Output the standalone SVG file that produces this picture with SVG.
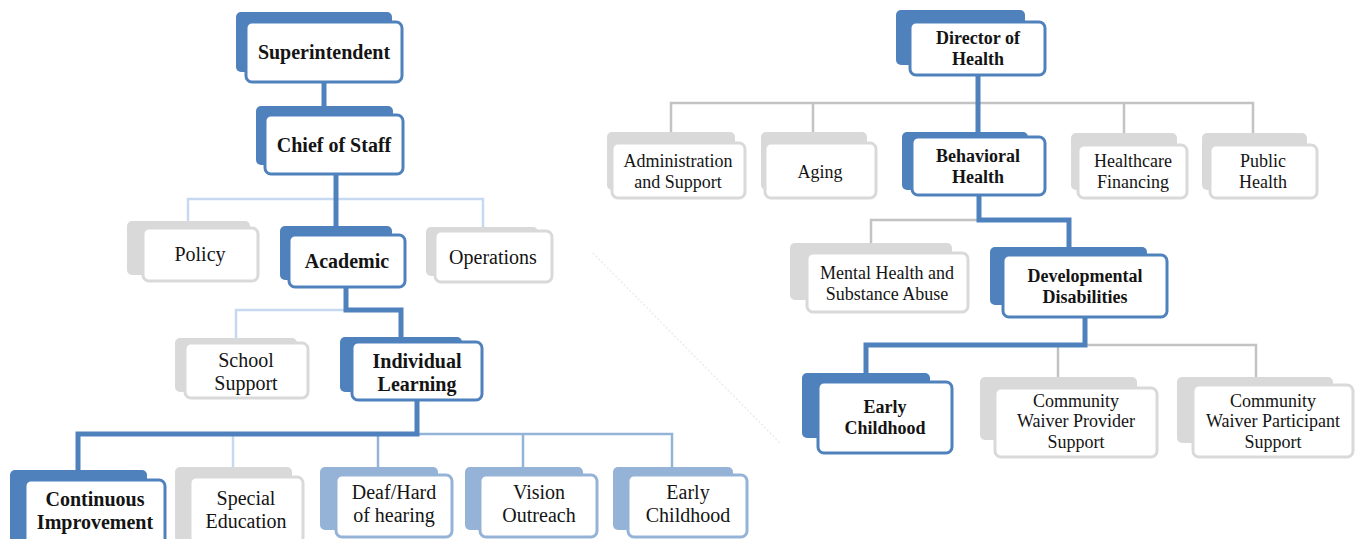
<svg xmlns="http://www.w3.org/2000/svg" width="1361" height="539" viewBox="0 0 1361 539">
<style>
text{font-family:"Liberation Serif","Times New Roman",serif;fill:#141414;text-anchor:middle}
.L{font-size:20px}
.R{font-size:18px}
.bd{font-weight:bold}
.bk-b{fill:#4f81bd}
.bk-g{fill:#d9d9d9}
.bk-l{fill:#95b3d7}
.fr-b{fill:#fff;stroke:#4f81bd;stroke-width:3}
.fr-g{fill:#fff;stroke:#d9d9d9;stroke-width:3}
.fr-l{fill:#fff;stroke:#95b3d7;stroke-width:3}
.ct{fill:none;stroke:#4f81bd;stroke-width:5;stroke-linejoin:miter}
.cl{fill:none;stroke:#c6d9f1;stroke-width:2.5}
.cm{fill:none;stroke:#95b3d7;stroke-width:2.5}
.cg{fill:none;stroke:#c3c3c3;stroke-width:2.5}
</style>
<line x1="593" y1="253" x2="780" y2="443" stroke="#ececec" stroke-width="1.5" stroke-dasharray="2 2"/>
<g id="connectors">
<path class="cl" d="M188,221 V199 H483 V227"/>
<path class="cl" d="M236,338 V310 H346"/>
<path class="cl" d="M233,467 V434"/>
<path class="cm" d="M417,434 H672 V467 M378,434 V467 M523,434 V467"/>
<path class="ct" d="M324,82 V106"/>
<path class="ct" d="M336,174 V226"/>
<path class="ct" d="M346,287 V310 H401 V337"/>
<path class="ct" d="M417,400 V434 H78 V470"/>
<path class="cg" d="M671,132 V103 H1253 V133 M813,103 V132 M1124,103 V133"/>
<path class="cg" d="M871,243 V220 H979"/>
<path class="cg" d="M1085,345 H1256 V377 M1058,345 V377"/>
<path class="ct" d="M978,75 V132"/>
<path class="ct" d="M979,195 V220 H1069 V247"/>
<path class="ct" d="M1085,317 V345 H866 V373"/>
</g>
<g id="superintendent"><rect class="bk-b" x="236" y="12" width="156" height="60" rx="5"/><rect class="fr-b" x="246" y="22" width="156" height="60" rx="6"/><text class="L bd" x="324" y="59">Superintendent</text></g>
<g id="chief-of-staff"><rect class="bk-b" x="256" y="106" width="137" height="59" rx="5"/><rect class="fr-b" x="265" y="115" width="138" height="59" rx="6"/><text class="L bd" x="334" y="152">Chief of Staff</text></g>
<g id="policy"><rect class="bk-g" x="127" y="221" width="123" height="54" rx="5"/><rect class="fr-g" x="143" y="228" width="115" height="53" rx="6"/><text class="L" x="200" y="261">Policy</text></g>
<g id="academic"><rect class="bk-b" x="280" y="226" width="112" height="54" rx="5"/><rect class="fr-b" x="289" y="235" width="116" height="52" rx="6"/><text class="L bd" x="347" y="268">Academic</text></g>
<g id="operations"><rect class="bk-g" x="426" y="227" width="112" height="49" rx="5"/><rect class="fr-g" x="435" y="231" width="117" height="51" rx="6"/><text class="L" x="493" y="264">Operations</text></g>
<g id="school-support"><rect class="bk-g" x="175" y="338" width="122" height="54" rx="5"/><rect class="fr-g" x="185" y="343" width="123" height="55" rx="6"/><text class="L" x="246" y="367">School</text><text class="L" x="246" y="390">Support</text></g>
<g id="individual-learning"><rect class="bk-b" x="340" y="337" width="122" height="55" rx="5"/><rect class="fr-b" x="352" y="342" width="130" height="58" rx="6"/><text class="L bd" x="417" y="368">Individual</text><text class="L bd" x="417" y="391">Learning</text></g>
<g id="continuous-improvement"><rect class="bk-b" x="10" y="470" width="137" height="75" rx="5"/><rect class="fr-b" x="25" y="480" width="140" height="70" rx="6"/><text class="L bd" x="95" y="506">Continuous</text><text class="L bd" x="95" y="529">Improvement</text></g>
<g id="special-education"><rect class="bk-g" x="175" y="467" width="117" height="75" rx="5"/><rect class="fr-g" x="190" y="477" width="113" height="70" rx="6"/><text class="L" x="246" y="505">Special</text><text class="L" x="246" y="528">Education</text></g>
<g id="deaf-hard-of-hearing"><rect class="bk-l" x="320" y="467" width="118" height="63" rx="5"/><rect class="fr-l" x="336" y="475" width="116" height="62" rx="6"/><text class="L" x="394" y="499">Deaf/Hard</text><text class="L" x="394" y="522">of hearing</text></g>
<g id="vision-outreach"><rect class="bk-l" x="465" y="467" width="118" height="63" rx="5"/><rect class="fr-l" x="480" y="475" width="117" height="62" rx="6"/><text class="L" x="539" y="499">Vision</text><text class="L" x="539" y="522">Outreach</text></g>
<g id="early-childhood-left"><rect class="bk-l" x="613" y="467" width="120" height="63" rx="5"/><rect class="fr-l" x="628" y="475" width="119" height="62" rx="6"/><text class="L" x="688" y="499">Early</text><text class="L" x="688" y="522">Childhood</text></g>
<g id="director-of-health"><rect class="bk-b" x="896" y="10" width="129" height="55" rx="5"/><rect class="fr-b" x="910" y="22" width="135" height="53" rx="6"/><text class="R bd" x="978" y="44">Director of</text><text class="R bd" x="978" y="65">Health</text></g>
<g id="administration-and-support"><rect class="bk-g" x="607" y="132" width="128" height="58" rx="5"/><rect class="fr-g" x="612" y="143" width="133" height="55" rx="6"/><text class="R" x="678" y="167">Administration</text><text class="R" x="678" y="188">and Support</text></g>
<g id="aging"><rect class="bk-g" x="761" y="132" width="106" height="58" rx="5"/><rect class="fr-g" x="765" y="143" width="111" height="55" rx="6"/><text class="R" x="820" y="178">Aging</text></g>
<g id="behavioral-health"><rect class="bk-b" x="902" y="132" width="126" height="58" rx="5"/><rect class="fr-b" x="912" y="137" width="133" height="58" rx="6"/><text class="R bd" x="978" y="162">Behavioral</text><text class="R bd" x="978" y="183">Health</text></g>
<g id="healthcare-financing"><rect class="bk-g" x="1071" y="133" width="106" height="57" rx="5"/><rect class="fr-g" x="1078" y="145" width="109" height="53" rx="6"/><text class="R" x="1133" y="167">Healthcare</text><text class="R" x="1133" y="188">Financing</text></g>
<g id="public-health"><rect class="bk-g" x="1202" y="133" width="105" height="57" rx="5"/><rect class="fr-g" x="1210" y="145" width="107" height="53" rx="6"/><text class="R" x="1263" y="167">Public</text><text class="R" x="1263" y="188">Health</text></g>
<g id="mental-health"><rect class="bk-g" x="790" y="243" width="162" height="57" rx="5"/><rect class="fr-g" x="807" y="253" width="161" height="59" rx="6"/><text class="R" x="887" y="279">Mental Health and</text><text class="R" x="887" y="300">Substance Abuse</text></g>
<g id="developmental-disabilities"><rect class="bk-b" x="990" y="247" width="157" height="58" rx="5"/><rect class="fr-b" x="1003" y="255" width="164" height="62" rx="6"/><text class="R bd" x="1085" y="282">Developmental</text><text class="R bd" x="1085" y="303">Disabilities</text></g>
<g id="early-childhood-right"><rect class="bk-b" x="802" y="373" width="128" height="65" rx="5"/><rect class="fr-b" x="818" y="382" width="134" height="71" rx="6"/><text class="R bd" x="885" y="413">Early</text><text class="R bd" x="885" y="434">Childhood</text></g>
<g id="community-waiver-provider-support"><rect class="bk-g" x="980" y="377" width="157" height="63" rx="5"/><rect class="fr-g" x="995" y="388" width="162" height="69" rx="6"/><text class="R" x="1076" y="407">Community</text><text class="R" x="1076" y="427">Waiver Provider</text><text class="R" x="1076" y="448">Support</text></g>
<g id="community-waiver-participant-support"><rect class="bk-g" x="1177" y="377" width="156" height="66" rx="5"/><rect class="fr-g" x="1193" y="385" width="160" height="72" rx="6"/><text class="R" x="1273" y="407">Community</text><text class="R" x="1273" y="427">Waiver Participant</text><text class="R" x="1273" y="448">Support</text></g>
</svg>
